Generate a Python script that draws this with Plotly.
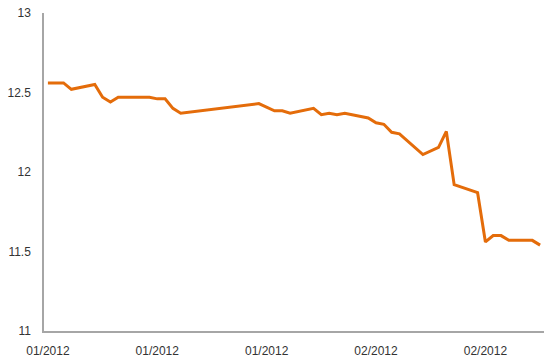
import plotly.graph_objects as go

dates = [
    "2012-01-01", "2012-01-03", "2012-01-04", "2012-01-07", "2012-01-08",
    "2012-01-09", "2012-01-10", "2012-01-14", "2012-01-15", "2012-01-16",
    "2012-01-17", "2012-01-18", "2012-01-28", "2012-01-30", "2012-01-31",
    "2012-02-01", "2012-02-04", "2012-02-05", "2012-02-06", "2012-02-07",
    "2012-02-08", "2012-02-11", "2012-02-12", "2012-02-13", "2012-02-14",
    "2012-02-15", "2012-02-18", "2012-02-20", "2012-02-21", "2012-02-22",
    "2012-02-25", "2012-02-26", "2012-02-27", "2012-02-28", "2012-02-29",
    "2012-03-03", "2012-03-04",
]
values = [
    12.56, 12.56, 12.52, 12.55, 12.47,
    12.44, 12.47, 12.47, 12.46, 12.46,
    12.40, 12.37, 12.43, 12.385, 12.385,
    12.37, 12.40, 12.36, 12.37, 12.36,
    12.37, 12.34, 12.31, 12.30, 12.25,
    12.24, 12.11, 12.155, 12.255, 11.92,
    11.87, 11.56, 11.60, 11.60, 11.57,
    11.57, 11.54,
]
tick_dates = ["2012-01-01", "2012-01-15", "2012-01-29", "2012-02-12", "2012-02-26"]
tick_labels = ["01/2012", "01/2012", "01/2012", "02/2012", "02/2012"]
y_ticks = [11, 11.5, 12, 12.5, 13]
y_labels = ["11", "11.5", "12", "12.5", "13"]

fig = go.Figure(
    go.Scatter(
        x=dates, y=values, mode="lines",
        line=dict(color="#E46C0A", width=3),
        hoverinfo="x+y",
    )
)

axis_font = dict(family="Liberation Sans, Arial, sans-serif", size=12, color="#333333")

fig.update_layout(
    width=550, height=364,
    margin=dict(l=44, r=6, t=12, b=31),
    paper_bgcolor="white", plot_bgcolor="white",
    showlegend=False,
    xaxis=dict(
        type="date",
        range=["2011-12-31 12:00", "2012-03-04 12:00"],
        tickmode="array", tickvals=tick_dates, ticktext=tick_labels,
        showgrid=False, zeroline=False,
        showline=True, linecolor="#A6A6A6", linewidth=1.5,
        ticks="", tickfont=axis_font, ticklabelstandoff=8,
    ),
    yaxis=dict(
        range=[11, 13],
        tickmode="array", tickvals=y_ticks, ticktext=y_labels,
        showgrid=False, zeroline=False,
        showline=True, linecolor="#A6A6A6", linewidth=1.5,
        ticks="", tickfont=axis_font, ticklabelstandoff=9,
    ),
)

fig.write_html("out.html")
